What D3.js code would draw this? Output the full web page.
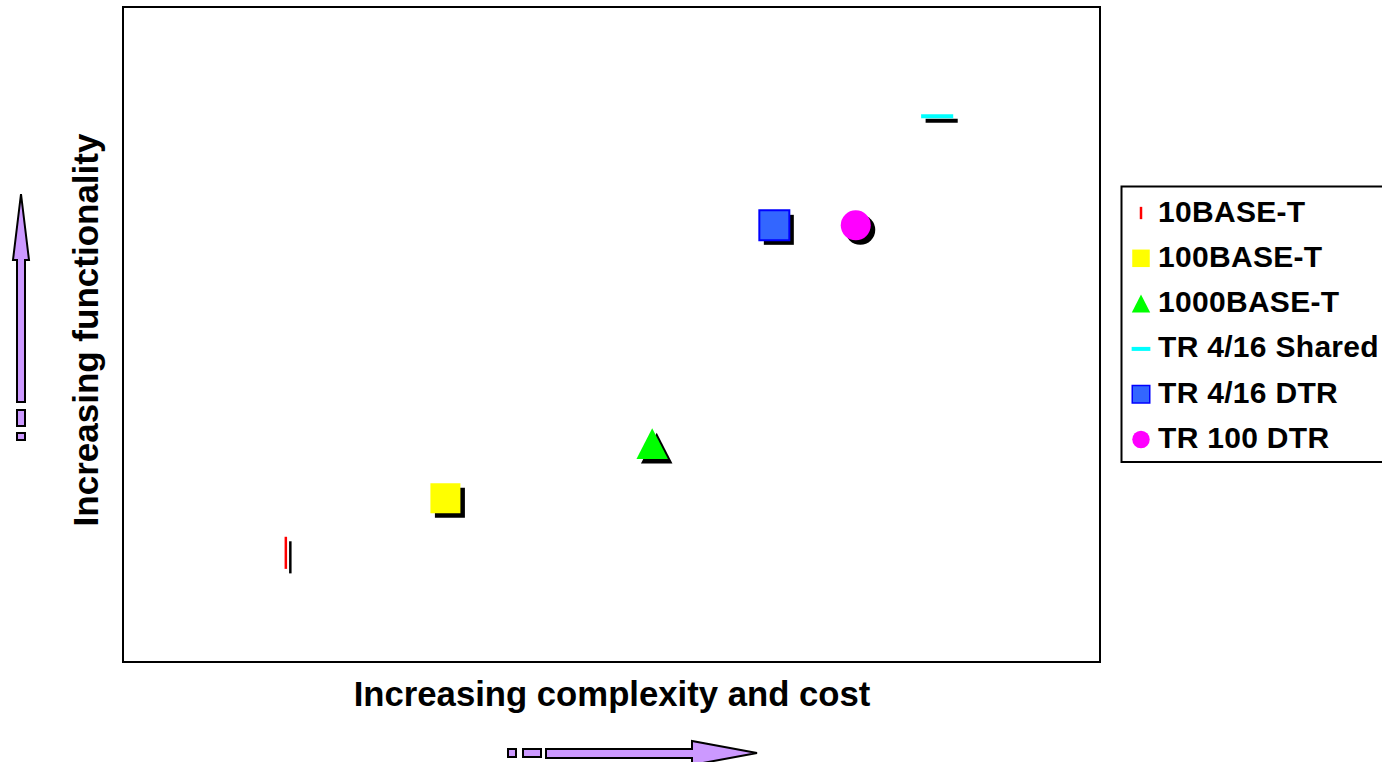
<!DOCTYPE html>
<meta charset="utf-8">
<script src="https://d3js.org/d3.v7.min.js"></script>
<style>
  html, body { margin: 0; padding: 0; background: #fff; }
  text { font-family: 'Liberation Sans', Arial, sans-serif; font-weight: bold; fill: #000; }
</style>
<body>
<div id="my_dataviz"></div>
<script>

// data
var seriesNames = ["10BASE-T", "100BASE-T", "1000BASE-T", "TR 4/16 Shared", "TR 4/16 DTR", "TR 100 DTR"];
var xValues = [1, 1.98, 3.25, 5, 4, 4.5];
var yValues = [1, 1.5, 2, 5, 4, 4];
var seriesShapes = ["vline", "square", "triangle", "hline", "square", "circle"];
var seriesColors = ["#ff0000", "#ffff00", "#00ff00", "#00ffff", "#3366ff", "#ff00ff"];
var seriesStrokes = [null, null, null, null, "#0000ff", null];
var xDomain = [0, 6], yDomain = [0, 6];
var xTitle = "Increasing complexity and cost";
var yTitle = "Increasing functionality";

var W = 1382, H = 762;
var plot = {left: 123, top: 7, right: 1100, bottom: 662};
const arrow_color = "#cc99ff";

var svg = d3.select("#my_dataviz")
  .append("svg")
    .attr("width", W)
    .attr("height", H);

var x = d3.scaleLinear().domain(xDomain).range([plot.left, plot.right]);
var y = d3.scaleLinear().domain(yDomain).range([plot.bottom, plot.top]);

// shape path, s = nominal size
function shapePath(type, s) {
  var h = s / 2;
  if (type == "square") return "M" + (-h) + "," + (-h) + "h" + s + "v" + s + "h" + (-s) + "Z";
  if (type == "triangle") return "M0," + (-h * 1.03) + "L" + (h * 1.05) + "," + (h * 1.03) + "L" + (-h * 1.05) + "," + (h * 1.03) + "Z";
  if (type == "circle") return d3.symbol(d3.symbolCircle, Math.PI * h * h)();
  if (type == "vline") return "M-1.25," + (-h * 1.07) + "h2.5v" + (s * 1.07) + "h-2.5Z";
  if (type == "hline") return "M" + (-h * 1.07) + ",-2h" + (s * 1.07) + "v4h" + (-s * 1.07) + "Z";
}

// frame
svg.append("rect")
  .attr("x", plot.left).attr("y", plot.top)
  .attr("width", plot.right - plot.left).attr("height", plot.bottom - plot.top)
  .attr("fill", "none").attr("stroke", "#000").attr("stroke-width", 2);

// shadows then markers
var pts = d3.range(seriesNames.length);
svg.append("g").selectAll("path")
  .data(pts).enter().append("path")
    .attr("transform", function(i) { return "translate(" + (x(xValues[i]) + 4.5) + "," + (y(yValues[i]) + 4.5) + ")"; })
    .attr("d", function(i) { return shapePath(seriesShapes[i], 30); })
    .attr("fill", "#000");

svg.append("g").selectAll("path")
  .data(pts).enter().append("path")
    .attr("transform", function(i) { return "translate(" + x(xValues[i]) + "," + y(yValues[i]) + ")"; })
    .attr("d", function(i) { return shapePath(seriesShapes[i], 30); })
    .attr("fill", function(i) { return seriesColors[i]; })
    .attr("stroke", function(i) { return seriesStrokes[i] || "none"; })
    .attr("stroke-width", 2);

// axis titles
svg.append("text")
  .attr("x", 612).attr("y", 706)
  .attr("text-anchor", "middle")
  .style("font-size", "34.7px")
  .text(xTitle);

svg.append("text")
  .attr("transform", "translate(98,330) rotate(-90)")
  .attr("text-anchor", "middle")
  .style("font-size", "35px")
  .text(yTitle);

// legend
var legend = svg.append("g");
legend.append("rect")
  .attr("x", 1121.5).attr("y", 186.5)
  .attr("width", 280).attr("height", 275.5)
  .attr("fill", "#fff").attr("stroke", "#000").attr("stroke-width", 2);

var item = legend.selectAll("g.item")
  .data(pts).enter().append("g")
    .attr("class", "item")
    .attr("transform", function(i) { return "translate(0," + (221.5 + i * 45.3) + ")"; });

item.append("path")
  .attr("transform", "translate(1141,-8.5)")
  .attr("d", function(i) { return shapePath(seriesShapes[i], seriesShapes[i] == "vline" ? 11.5 : 17.5); })
  .attr("fill", function(i) { return seriesColors[i]; })
  .attr("stroke", function(i) { return seriesStrokes[i] || "none"; })
  .attr("stroke-width", 1.5);

item.append("text")
  .attr("x", 1158).attr("y", 0)
  .style("font-size", "30px")
  .style("letter-spacing", "0.3px")
  .text(function(i) { return seriesNames[i]; });

// arrows
var arrows = svg.append("g")
  .attr("fill", arrow_color).attr("stroke", "#000").attr("stroke-width", 2);

// vertical arrow
arrows.append("path")
  .attr("d", "M21,194 L29,260 L25,260 L25,402 L17,402 L17,260 L13,260 Z");
arrows.append("rect").attr("x", 17).attr("y", 410).attr("width", 8).attr("height", 16);
arrows.append("rect").attr("x", 17).attr("y", 433).attr("width", 8).attr("height", 7);

// horizontal arrow
arrows.append("rect").attr("x", 508).attr("y", 749).attr("width", 8).attr("height", 8);
arrows.append("rect").attr("x", 523).attr("y", 749).attr("width", 18).attr("height", 8);
arrows.append("path")
  .attr("d", "M546,749 L692,749 L692,741 L757,753 L692,765 L692,758 L546,758 Z");

</script>
</body>
